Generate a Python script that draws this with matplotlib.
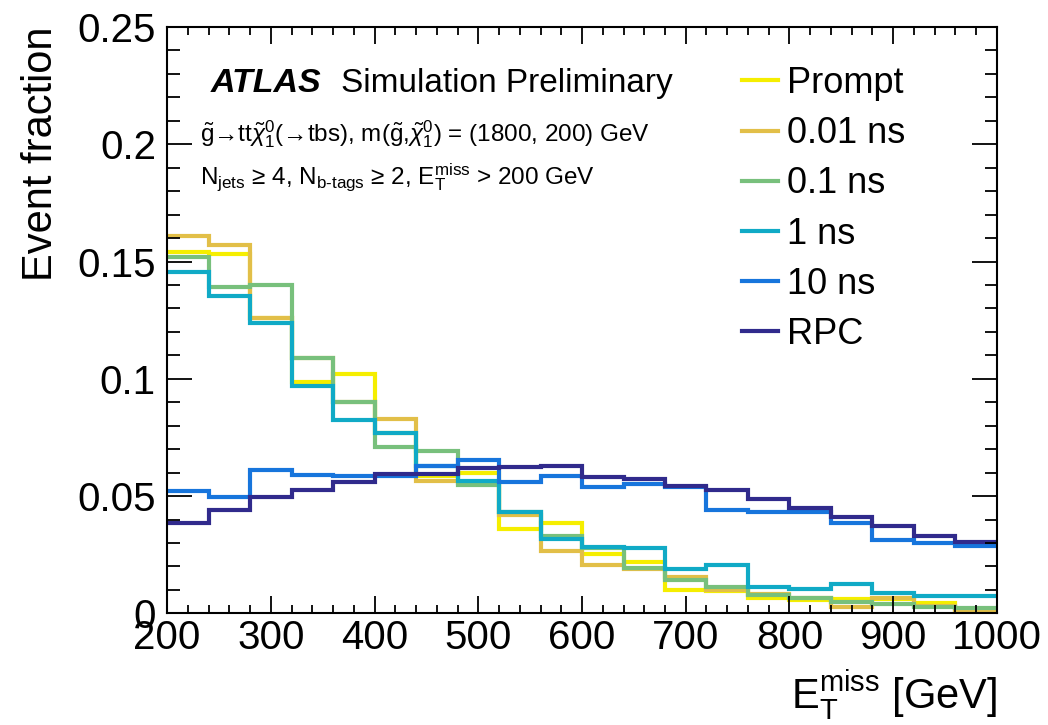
import numpy as np
import matplotlib
matplotlib.use("Agg")
import matplotlib.pyplot as plt
from matplotlib.ticker import MultipleLocator, FormatStrFormatter

plt.rcParams["font.family"] = ["Liberation Sans", "DejaVu Sans"]
plt.rcParams["mathtext.fontset"] = "custom"
plt.rcParams["mathtext.rm"] = "Liberation Sans"
plt.rcParams["mathtext.it"] = "Liberation Sans:italic"
plt.rcParams["mathtext.bf"] = "Liberation Sans:bold"

# E_T^miss binning (40 GeV bins)
bin_edges = np.arange(200, 1001, 40)

labels = ["Prompt", "0.01 ns", "0.1 ns", "1 ns", "10 ns", "RPC"]
colors = ["#f5ee00", "#e2bf48", "#78c07c", "#10aac6", "#1775dc", "#302a8c"]

prompt = [0.154, 0.153, 0.126, 0.0986, 0.102, 0.077, 0.0584, 0.060, 0.0358, 0.0385,
          0.0253, 0.0220, 0.0100, 0.0094, 0.0064, 0.0057, 0.0060, 0.0060, 0.0043, 0.0010]
ns001 = [0.161, 0.157, 0.126, 0.109, 0.090, 0.0829, 0.0565, 0.0555, 0.042, 0.0266,
         0.0208, 0.0190, 0.0153, 0.0100, 0.0081, 0.0066, 0.0026, 0.0064, 0.0030, 0.0015]
ns01 = [0.152, 0.139, 0.140, 0.109, 0.090, 0.0709, 0.0691, 0.0547, 0.0430, 0.0330,
        0.0278, 0.0192, 0.0142, 0.0114, 0.0080, 0.0067, 0.0050, 0.0038, 0.0028, 0.0021]
ns1 = [0.1457, 0.1353, 0.1239, 0.0968, 0.0825, 0.0771, 0.0628, 0.0563, 0.0432, 0.0316,
       0.0285, 0.0280, 0.0189, 0.0206, 0.0111, 0.0104, 0.0124, 0.0085, 0.0075, 0.0075]
ns10 = [0.0520, 0.0498, 0.0612, 0.0591, 0.0584, 0.0586, 0.0627, 0.0654, 0.0560, 0.0584,
        0.0538, 0.0550, 0.0537, 0.0442, 0.0434, 0.0434, 0.0385, 0.0313, 0.0299, 0.0288]
rpc = [0.0385, 0.0442, 0.0498, 0.0527, 0.0560, 0.0592, 0.0592, 0.0621, 0.0622, 0.0630,
       0.0581, 0.0573, 0.0541, 0.0524, 0.0489, 0.0449, 0.0409, 0.0373, 0.0328, 0.0306]

samples = [prompt, ns001, ns01, ns1, ns10, rpc]

fig = plt.figure(figsize=(10.48, 7.25), dpi=100)
ax = fig.add_axes([0.1594, 0.154, 0.7919, 0.8088])

for vals, lab, col in zip(samples, labels, colors):
    ax.stairs(vals, bin_edges, baseline=None, color=col, lw=3, label=lab)

ax.set_xlim(200, 1000)
ax.set_ylim(0, 0.25)
ax.xaxis.set_major_locator(MultipleLocator(100))
ax.xaxis.set_minor_locator(MultipleLocator(20))
ax.yaxis.set_major_locator(MultipleLocator(0.05))
ax.yaxis.set_minor_locator(MultipleLocator(0.01))
ax.yaxis.set_major_formatter(FormatStrFormatter("%g"))

ax.tick_params(which="both", direction="in", top=True, right=True, width=1.3)
ax.tick_params(axis="y", which="major", length=18, labelsize=29, pad=8)
ax.tick_params(axis="y", which="minor", length=9)
ax.tick_params(axis="x", which="major", length=12, labelsize=29, pad=4)
ax.tick_params(axis="x", which="minor", length=6)
for sp in ax.spines.values():
    sp.set_linewidth(1.5)

ax.set_ylabel("Event fraction", fontsize=30, loc="top", labelpad=12)
ax.set_xlabel(r"E$_{\mathrm{T}}^{\mathrm{miss}}$ [GeV]", fontsize=30, loc="right", labelpad=8)

ax.text(0.052, 0.889, "ATLAS", transform=ax.transAxes, fontsize=24.5,
        fontweight="bold", fontstyle="italic", va="baseline")
ax.text(0.21, 0.889, "Simulation Preliminary", transform=ax.transAxes, fontsize=24,
        va="baseline")
ax.text(0.040, 0.805,
        r"$\tilde{\mathrm{g}}$→tt$\tilde{\chi}^{0}_{1}$(→tbs), "
        r"m($\tilde{\mathrm{g}}$,$\tilde{\chi}^{0}_{1}$) = (1800, 200) GeV",
        transform=ax.transAxes, fontsize=17.5, va="baseline")
ax.text(0.040, 0.732,
        r"N$_{\mathrm{jets}}$ ≥ 4, N$_{\text{b-tags}}$ ≥ 2, E$_{\mathrm{T}}^{\mathrm{miss}}$ > 200 GeV",
        transform=ax.transAxes, fontsize=17.5, va="baseline")

ax.legend(loc="upper left", bbox_to_anchor=(742 / 1048, 1 - 66 / 725),
          bbox_transform=fig.transFigure, frameon=False, fontsize=26,
          handlelength=1.0, handletextpad=0.25, labelspacing=0.42,
          borderpad=0, borderaxespad=0)

fig.savefig("out.png", dpi=100)
